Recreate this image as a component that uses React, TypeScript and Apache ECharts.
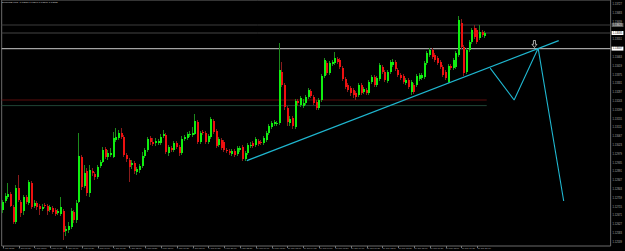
import React, { useEffect, useRef } from "react";
import * as echarts from "echarts";

// ---- data (EURUSD-like, M15) ----
const opens = [
  1.12700, 1.12745, 1.12765, 1.12780, 1.12715, 1.12640, 1.12810, 1.12740, 1.12695, 1.12765,
  1.12735, 1.12835, 1.12720, 1.12735, 1.12720, 1.12705, 1.12725, 1.12720, 1.12700, 1.12710,
  1.12700, 1.12685, 1.12680, 1.12695, 1.12595, 1.12600, 1.12615, 1.12690, 1.12650, 1.12740,
  1.12965, 1.12820, 1.12895, 1.12785, 1.12895, 1.12880, 1.12865, 1.12920, 1.12940, 1.13005,
  1.12965, 1.12975, 1.12965, 1.13050, 1.13060, 1.13085, 1.13065, 1.12975, 1.12950, 1.12925,
  1.12935, 1.12890, 1.12900, 1.12920, 1.12970, 1.13000, 1.13060, 1.13040, 1.13035, 1.13035,
  1.13035, 1.13070, 1.13075, 1.12985, 1.13010, 1.13000, 1.13035, 1.13015, 1.12985, 1.13055,
  1.13060, 1.13075, 1.13075, 1.13080, 1.13140, 1.13040, 1.13090, 1.13085, 1.13040, 1.13065,
  1.13145, 1.13095, 1.13025, 1.13050, 1.13040, 1.13000, 1.12995, 1.12980, 1.12995, 1.12980,
  1.13000, 1.13015, 1.12955, 1.12985, 1.13020, 1.13035, 1.13025, 1.13045, 1.13040, 1.13035,
  1.13050, 1.13085, 1.13115, 1.13130, 1.13130, 1.13135, 1.13390, 1.13325, 1.13210, 1.13135,
  1.13160, 1.13115, 1.13245, 1.13225, 1.13220, 1.13235, 1.13265, 1.13295, 1.13265, 1.13240,
  1.13210, 1.13250, 1.13370, 1.13435, 1.13385, 1.13430, 1.13435, 1.13455, 1.13450, 1.13410,
  1.13355, 1.13325, 1.13310, 1.13300, 1.13285, 1.13275, 1.13325, 1.13290, 1.13300, 1.13285,
  1.13340, 1.13365, 1.13325, 1.13355, 1.13415, 1.13390, 1.13345, 1.13390, 1.13425, 1.13440,
  1.13400, 1.13375, 1.13370, 1.13335, 1.13350, 1.13290, 1.13325, 1.13325, 1.13355, 1.13360,
  1.13365, 1.13435, 1.13475, 1.13500, 1.13475, 1.13460, 1.13440, 1.13415, 1.13390, 1.13340,
  1.13420, 1.13410, 1.13415, 1.13475, 1.13635, 1.13515, 1.13390, 1.13500, 1.13540, 1.13610,
  1.13600, 1.13560, 1.13590, 1.13570,
];
const closes = [
  1.12740, 1.12770, 1.12780, 1.12720, 1.12640, 1.12810, 1.12750, 1.12685, 1.12765, 1.12740,
  1.12840, 1.12715, 1.12735, 1.12715, 1.12705, 1.12715, 1.12720, 1.12695, 1.12715, 1.12690,
  1.12680, 1.12695, 1.12715, 1.12590, 1.12605, 1.12620, 1.12695, 1.12650, 1.12735, 1.12970,
  1.12815, 1.12885, 1.12785, 1.12900, 1.12885, 1.12865, 1.12915, 1.12940, 1.13000, 1.12965,
  1.12985, 1.12985, 1.13060, 1.13065, 1.13085, 1.13065, 1.12975, 1.12955, 1.12915, 1.12935,
  1.12895, 1.12905, 1.12920, 1.12970, 1.13000, 1.13055, 1.13040, 1.13030, 1.13045, 1.13045,
  1.13065, 1.13080, 1.12990, 1.13015, 1.13000, 1.13035, 1.13015, 1.12985, 1.13055, 1.13065,
  1.13080, 1.13080, 1.13085, 1.13145, 1.13040, 1.13085, 1.13085, 1.13040, 1.13070, 1.13155,
  1.13090, 1.13020, 1.13055, 1.13010, 1.13000, 1.12995, 1.12985, 1.12995, 1.12975, 1.13010,
  1.13010, 1.12955, 1.12985, 1.13025, 1.13025, 1.13020, 1.13055, 1.13030, 1.13035, 1.13060,
  1.13085, 1.13120, 1.13135, 1.13140, 1.13135, 1.13400, 1.13325, 1.13215, 1.13140, 1.13155,
  1.13120, 1.13245, 1.13235, 1.13260, 1.13235, 1.13265, 1.13300, 1.13270, 1.13235, 1.13210,
  1.13250, 1.13370, 1.13450, 1.13385, 1.13435, 1.13440, 1.13460, 1.13440, 1.13415, 1.13355,
  1.13315, 1.13300, 1.13285, 1.13275, 1.13265, 1.13325, 1.13285, 1.13305, 1.13285, 1.13340,
  1.13365, 1.13325, 1.13360, 1.13425, 1.13390, 1.13350, 1.13390, 1.13440, 1.13440, 1.13405,
  1.13375, 1.13360, 1.13340, 1.13350, 1.13315, 1.13340, 1.13290, 1.13370, 1.13375, 1.13375,
  1.13435, 1.13485, 1.13500, 1.13465, 1.13450, 1.13435, 1.13415, 1.13375, 1.13360, 1.13420,
  1.13410, 1.13450, 1.13485, 1.13650, 1.13515, 1.13385, 1.13500, 1.13540, 1.13600, 1.13565,
  1.13540, 1.13590, 1.13575, 1.13585,
];
const highs = [
  1.12750, 1.12785, 1.12835, 1.12790, 1.12725, 1.12825, 1.12875, 1.12750, 1.12775, 1.12775,
  1.12850, 1.12845, 1.12750, 1.12745, 1.12730, 1.12730, 1.12735, 1.12730, 1.12725, 1.12720,
  1.12710, 1.12705, 1.12765, 1.12705, 1.12620, 1.12640, 1.12710, 1.12700, 1.12750, 1.13085,
  1.12975, 1.12925, 1.12910, 1.12925, 1.12910, 1.12890, 1.12925, 1.12950, 1.13015, 1.13015,
  1.13000, 1.13010, 1.13090, 1.13110, 1.13100, 1.13110, 1.13075, 1.12985, 1.12960, 1.12950,
  1.12945, 1.12915, 1.12930, 1.12990, 1.13010, 1.13065, 1.13070, 1.13060, 1.13060, 1.13055,
  1.13080, 1.13100, 1.13085, 1.13025, 1.13020, 1.13045, 1.13045, 1.13025, 1.13070, 1.13075,
  1.13090, 1.13095, 1.13115, 1.13180, 1.13150, 1.13095, 1.13100, 1.13095, 1.13080, 1.13165,
  1.13155, 1.13105, 1.13065, 1.13060, 1.13050, 1.13010, 1.13005, 1.13005, 1.13005, 1.13020,
  1.13020, 1.13025, 1.12995, 1.13035, 1.13040, 1.13045, 1.13065, 1.13055, 1.13050, 1.13070,
  1.13095, 1.13130, 1.13145, 1.13150, 1.13145, 1.13535, 1.13440, 1.13335, 1.13220, 1.13170,
  1.13170, 1.13255, 1.13255, 1.13270, 1.13255, 1.13275, 1.13310, 1.13305, 1.13275, 1.13250,
  1.13260, 1.13380, 1.13460, 1.13445, 1.13445, 1.13450, 1.13490, 1.13465, 1.13460, 1.13420,
  1.13365, 1.13335, 1.13320, 1.13310, 1.13295, 1.13335, 1.13335, 1.13315, 1.13310, 1.13350,
  1.13375, 1.13375, 1.13370, 1.13435, 1.13425, 1.13400, 1.13400, 1.13450, 1.13455, 1.13450,
  1.13410, 1.13385, 1.13380, 1.13360, 1.13360, 1.13350, 1.13335, 1.13380, 1.13385, 1.13385,
  1.13445, 1.13495, 1.13510, 1.13510, 1.13485, 1.13470, 1.13450, 1.13425, 1.13400, 1.13430,
  1.13430, 1.13460, 1.13495, 1.13670, 1.13655, 1.13525, 1.13510, 1.13550, 1.13610, 1.13625,
  1.13610, 1.13625, 1.13600, 1.13595,
];
const lows = [
  1.12685, 1.12735, 1.12755, 1.12715, 1.12630, 1.12630, 1.12740, 1.12665, 1.12675, 1.12730,
  1.12725, 1.12705, 1.12710, 1.12700, 1.12675, 1.12695, 1.12710, 1.12675, 1.12690, 1.12680,
  1.12670, 1.12675, 1.12670, 1.12550, 1.12570, 1.12585, 1.12605, 1.12635, 1.12635, 1.12735,
  1.12800, 1.12810, 1.12770, 1.12765, 1.12870, 1.12850, 1.12855, 1.12910, 1.12935, 1.12955,
  1.12950, 1.12965, 1.12960, 1.13040, 1.13050, 1.13055, 1.12965, 1.12940, 1.12840, 1.12905,
  1.12880, 1.12875, 1.12885, 1.12910, 1.12960, 1.12990, 1.13025, 1.13020, 1.13020, 1.13025,
  1.13025, 1.13060, 1.12980, 1.12970, 1.12990, 1.12990, 1.13005, 1.12970, 1.12975, 1.13045,
  1.13050, 1.13065, 1.13065, 1.13075, 1.13030, 1.13030, 1.13075, 1.13030, 1.13030, 1.13055,
  1.13080, 1.13010, 1.13015, 1.13000, 1.12990, 1.12985, 1.12975, 1.12970, 1.12965, 1.12970,
  1.12990, 1.12945, 1.12945, 1.12975, 1.13010, 1.13010, 1.13015, 1.13020, 1.13025, 1.13025,
  1.13040, 1.13075, 1.13105, 1.13120, 1.13120, 1.13125, 1.13315, 1.13200, 1.13120, 1.13120,
  1.13105, 1.13105, 1.13220, 1.13215, 1.13210, 1.13225, 1.13255, 1.13260, 1.13225, 1.13200,
  1.13200, 1.13240, 1.13360, 1.13375, 1.13375, 1.13420, 1.13425, 1.13430, 1.13405, 1.13345,
  1.13305, 1.13290, 1.13270, 1.13260, 1.13250, 1.13265, 1.13275, 1.13280, 1.13275, 1.13275,
  1.13330, 1.13315, 1.13315, 1.13345, 1.13380, 1.13340, 1.13335, 1.13380, 1.13415, 1.13395,
  1.13365, 1.13350, 1.13330, 1.13325, 1.13305, 1.13275, 1.13280, 1.13315, 1.13345, 1.13350,
  1.13355, 1.13425, 1.13465, 1.13455, 1.13440, 1.13425, 1.13405, 1.13365, 1.13350, 1.13335,
  1.13400, 1.13400, 1.13405, 1.13465, 1.13505, 1.13370, 1.13380, 1.13490, 1.13530, 1.13555,
  1.13530, 1.13550, 1.13565, 1.13560,
];

const timeLabels = [
  "9 Jun 2015", "9 Jun 01:30", "9 Jun 03:00", "9 Jun 04:30", "9 Jun 06:00", "9 Jun 07:30",
  "9 Jun 09:00", "9 Jun 10:30", "9 Jun 12:00", "9 Jun 13:30", "9 Jun 15:00", "9 Jun 16:30",
  "9 Jun 18:00", "9 Jun 19:30", "9 Jun 21:00", "9 Jun 22:30", "10 Jun 00:00", "10 Jun 01:30",
  "10 Jun 03:00", "10 Jun 04:30", "10 Jun 06:00", "10 Jun 07:30", "10 Jun 09:00", "10 Jun 10:30",
  "10 Jun 12:00", "10 Jun 13:30", "10 Jun 15:00", "10 Jun 16:30", "10 Jun 18:00", "10 Jun 19:30",
  "10 Jun 21:00",
];
const LABEL_EVERY = 6;
const SLOTS = 231;

const priceTicks = [
  1.13727, 1.13683, 1.13639, 1.13551, 1.13463, 1.13419, 1.13375, 1.13331,
  1.13287, 1.13243, 1.13199, 1.13155, 1.13111, 1.13067, 1.13023, 1.12979, 1.12935, 1.12891,
  1.12847, 1.12803, 1.12759, 1.12715, 1.12671, 1.12627, 1.12583, 1.12539,
];
const PRICE_MIN = 1.1252;
const PRICE_MAX = 1.1375;

const upperLevel = 1.13625;
const bidPrice = 1.13585;
const keyLevel = 1.13507;
const redLevel = 1.1325;
const greenLevel = 1.13222;

const trendX = [92.5, 210.8];
const trendY = [1.12947, 1.13547];
const zigzagX = [184.8, 193.9, 203.0, 212.7];
const zigzagY = [1.13409, 1.1325, 1.13509, 1.12745];
const arrowPoint = [201.6, 1.1353];

const titleText = "EURUSD,M15  1.13580 1.13590 1.13570 1.13585";

export default function App() {
  const ref = useRef<HTMLDivElement>(null);
  useEffect(() => {
    if (!ref.current) return;
    const chart = echarts.init(ref.current, undefined, { renderer: "svg" });
    const categories = Array.from({ length: SLOTS }, (_, i) =>
      i % LABEL_EVERY === 0 && i / LABEL_EVERY < timeLabels.length ? timeLabels[i / LABEL_EVERY] : ""
    );
    const candleData = opens.map((o, i) => [i, o, closes[i], lows[i], highs[i]]);
    const font = "Liberation Sans, DejaVu Sans, sans-serif";
    const xStart = -0.5;
    const xEnd = SLOTS - 0.5;

    const levelSeries = (value: number, color: string, width: number, bg: string, fg: string) => ({
      type: "line",
      xAxisIndex: 1,
      z: 2,
      symbol: "none",
      silent: true,
      data: [
        [xStart, value],
        [xEnd, value],
      ],
      lineStyle: { color, width },
      endLabel: {
        show: true,
        distance: 1,
        formatter: () => value.toFixed(5),
        backgroundColor: bg,
        color: fg,
        fontSize: 2.6,
        fontFamily: font,
        padding: [0.6, 1.2, 0.4, 1.2],
      },
    });
    const indicatorSeries = (value: number, color: string) => ({
      type: "line",
      xAxisIndex: 1,
      z: 2,
      symbol: "none",
      silent: true,
      data: [
        [xStart, value],
        [opens.length - 0.5, value],
      ],
      lineStyle: { color, width: 1 },
    });

    chart.setOption({
      animation: false,
      backgroundColor: "#000",
      textStyle: { fontFamily: font },
      title: {
        text: titleText,
        left: 2,
        top: 0.5,
        padding: 0,
        textStyle: { fontSize: 2.5, color: "#d0d0d0", fontWeight: "normal", fontFamily: font },
      },
      grid: {
        left: 0,
        right: 12,
        top: 0,
        bottom: 5,
        show: true,
        borderColor: "#6a6a6a",
        borderWidth: 1,
      },
      xAxis: [
        {
          type: "category",
          data: categories,
          boundaryGap: true,
          axisLine: { show: false },
          axisTick: {
            show: true,
            interval: (i: number) => categories[i] !== "",
            alignWithLabel: true,
            length: 2,
            lineStyle: { color: "#777" },
          },
          axisLabel: {
            interval: 0,
            fontSize: 2.3,
            color: "#b4b4b4",
            align: "left",
            margin: 1.5,
            hideOverlap: false,
            fontFamily: font,
          },
          splitLine: { show: false },
        },
        { type: "value", min: xStart, max: xEnd, show: false },
      ],
      yAxis: {
        type: "value",
        position: "right",
        min: PRICE_MIN,
        max: PRICE_MAX,
        axisLine: { show: false },
        axisTick: { show: false },
        splitLine: { show: false },
        axisLabel: {
          customValues: priceTicks,
          formatter: (v: number) => v.toFixed(5),
          fontSize: 2.6,
          color: "#b0b0b0",
          margin: 2,
          fontFamily: font,
        },
      },
      series: [
        levelSeries(upperLevel, "#3d3d3d", 1, "#5a5a5a", "#e0e0e0"),
        levelSeries(bidPrice, "#454545", 1, "#ffffff", "#000"),
        levelSeries(keyLevel, "#a4a4a4", 1.4, "#ffffff", "#000"),
        indicatorSeries(redLevel, "#5c0c0c"),
        indicatorSeries(greenLevel, "#1f4434"),
        {
          type: "custom",
          name: "candles",
          xAxisIndex: 1,
          z: 3,
          encode: { x: 0, y: [1, 2, 3, 4] },
          data: candleData,
          renderItem: (params: any, api: any) => {
            const i = api.value(0);
            const o = api.value(1);
            const c = api.value(2);
            const l = api.value(3);
            const h = api.value(4);
            const po = api.coord([i, o]);
            const pc = api.coord([i, c]);
            const pl = api.coord([i, l]);
            const ph = api.coord([i, h]);
            const up = c >= o;
            const cx = Math.round(po[0]);
            const top = Math.min(po[1], pc[1]);
            const hgt = Math.max(1, Math.abs(po[1] - pc[1]));
            return {
              type: "group",
              children: [
                {
                  type: "line",
                  shape: { x1: cx - 0.5, y1: ph[1], x2: cx - 0.5, y2: pl[1] },
                  style: { stroke: up ? "#1c8a1c" : "#8a1c1c", lineWidth: 1 },
                },
                {
                  type: "rect",
                  shape: { x: cx - 1, y: top, width: 2, height: hgt },
                  style: { fill: up ? "#10ee10" : "#ee1010" },
                },
              ],
            };
          },
        },
        {
          type: "line",
          name: "trend",
          xAxisIndex: 1,
          z: 4,
          symbol: "none",
          data: trendX.map((x, k) => [x, trendY[k]]),
          lineStyle: { color: "#1fb6cf", width: 1.2 },
        },
        {
          type: "line",
          name: "zigzag",
          xAxisIndex: 1,
          z: 4,
          symbol: "none",
          data: zigzagX.map((x, k) => [x, zigzagY[k]]),
          lineStyle: { color: "#1fb6cf", width: 1.1 },
        },
        {
          type: "scatter",
          name: "arrow",
          xAxisIndex: 1,
          z: 6,
          data: [arrowPoint],
          symbol: "path://M3,0L7,0L7,6L10,6L5,11L0,6L3,6Z",
          symbolSize: [5, 7],
          itemStyle: { color: "#000", borderColor: "#ffffff", borderWidth: 0.8 },
        },
      ],
    });
    return () => chart.dispose();
  }, []);

  return (
    <div
      ref={ref}
      style={{ position: "fixed", left: 0, top: 0, width: 625, height: 251, background: "#000" }}
    />
  );
}
